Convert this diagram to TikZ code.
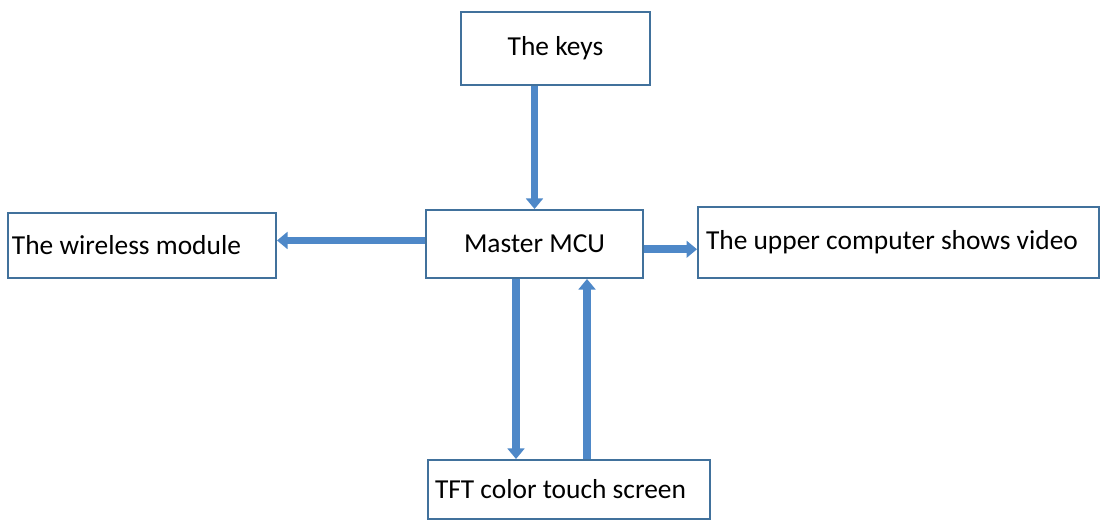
\documentclass[tikz,border=0pt]{standalone}
\usepackage{fontspec}
\setmainfont{Carlito}
\usetikzlibrary{arrows.meta,calc}
\definecolor{boxedge}{HTML}{41719C}
\definecolor{flowblue}{HTML}{4E88C8}
\tikzset{
  block/.style={draw=boxedge, line width=1.1pt, font=\fontsize{15.6}{17}\selectfont},
  leftblock/.style={block, align=flush left, inner xsep=0.08cm, inner ysep=0pt},
  flow/.style={draw=flowblue, line width=4.4pt, -{Triangle[width=9.5pt,length=6pt]}}
}
\begin{document}
\begin{tikzpicture}
  \useasboundingbox (0,0) rectangle (22,10.4);
  % boxes
  \node[block, minimum width=3.78cm, minimum height=1.46cm] (keys) at (11.11,9.43) {The keys};
  \node[block, minimum width=4.34cm, minimum height=1.36cm] (mcu) at (10.69,5.52) {Master MCU};
  \node[leftblock, text width=5.2cm, minimum height=1.30cm] (wireless) at (2.84,5.49) {The wireless module};
  \node[leftblock, text width=7.7cm, inner xsep=0.16cm, minimum height=1.42cm] (upper) at (17.97,5.55) {The upper computer shows video};
  \node[leftblock, text width=5.36cm, inner xsep=0.14cm, minimum height=1.18cm] (tft) at (11.38,0.61) {TFT color touch screen};
  % arrows
  \draw[flow] (keys.south -| mcu.north) -- (mcu.north);
  \draw[flow] ([yshift=2pt]mcu.west) -- ([yshift=2pt]mcu.west -| wireless.east);
  \draw[flow] ([yshift=-3pt]mcu.east) -- ([yshift=-3pt]mcu.east -| upper.west);
  \draw[flow] ([xshift=-0.37cm]mcu.south) -- ([xshift=-0.37cm]mcu.south |- tft.north);
  \draw[flow] ([xshift=1.05cm]mcu.south |- tft.north) -- ([xshift=1.05cm]mcu.south);
\end{tikzpicture}
\end{document}
